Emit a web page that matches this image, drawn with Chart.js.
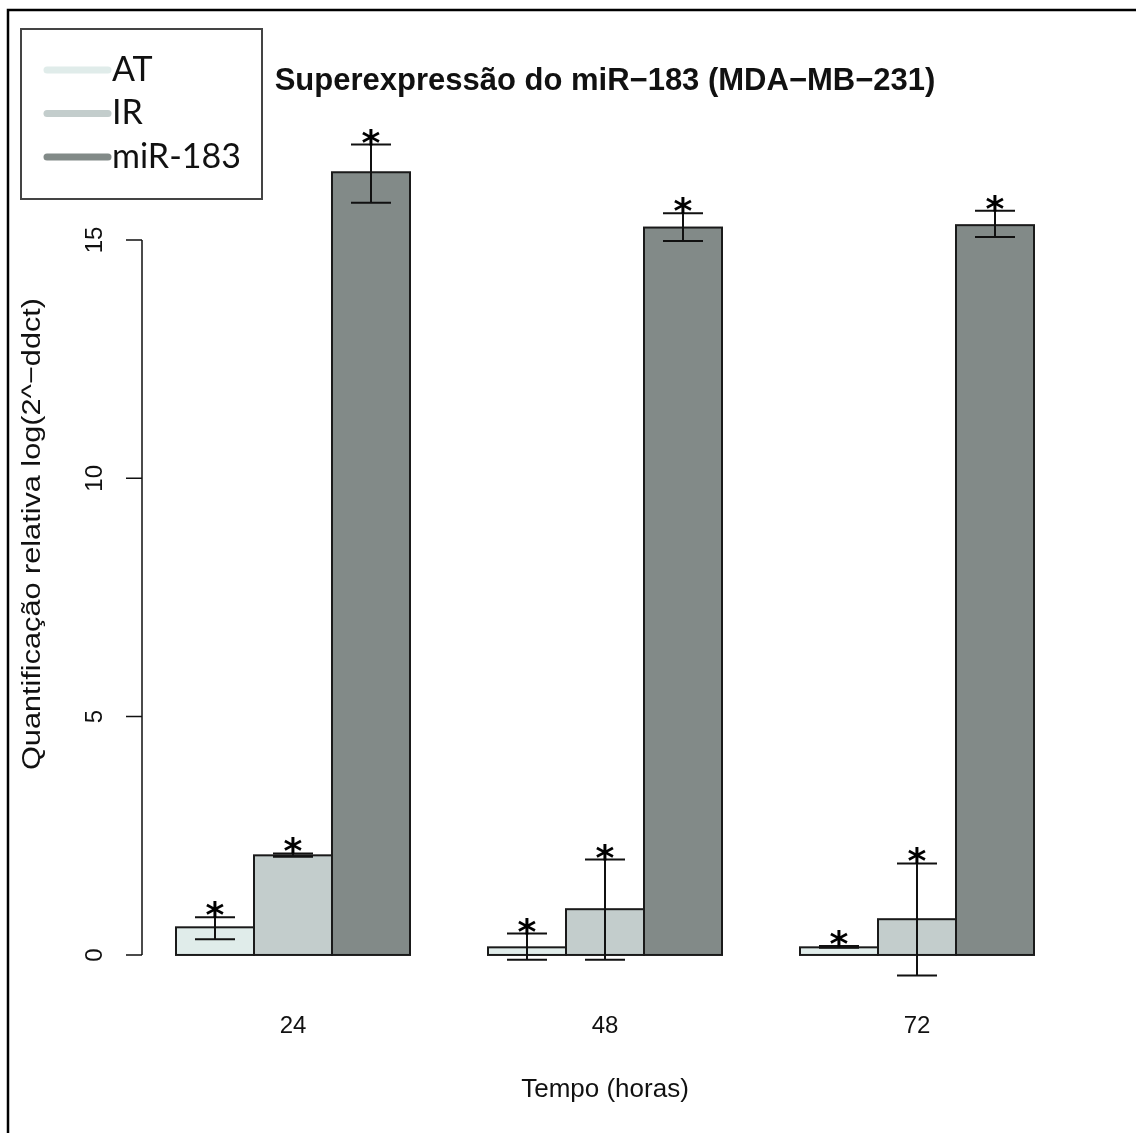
<!DOCTYPE html>
<html>
<head>
<meta charset="utf-8">
<title>Superexpressão do miR-183 (MDA-MB-231)</title>
<script src="https://cdn.jsdelivr.net/npm/chart.js@4.4.1/dist/chart.umd.min.js"></script>
<style>
  html, body { margin: 0; padding: 0; background: #ffffff; }
  #wrap { position: relative; width: 1136px; height: 1133px; }
</style>
</head>
<body>
<div id="wrap"><canvas id="chart" width="1136" height="1133"></canvas></div>
<script>
// Relative quantification, log(2^-ddct), per time point
const timePoints = ['24', '48', '72'];
const seriesNames = ['AT', 'IR', 'miR-183'];
const atValues = [0.58, 0.16, 0.16];
const irValues = [2.09, 0.96, 0.75];
const mirValues = [16.42, 15.26, 15.31];
// error bar ends (low / high)
const atLow = [0.33, -0.10, 0.15];
const atHigh = [0.79, 0.45, 0.19];
const irLow = [2.06, -0.10, -0.43];
const irHigh = [2.13, 2.00, 1.92];
const mirLow = [15.78, 14.98, 15.06];
const mirHigh = [17.00, 15.56, 15.61];
const yTicks = [0, 5, 10, 15];

const fills = ['#e0ecea', '#c3cdcc', '#828a88'];
const lows = [atLow, irLow, mirLow];
const highs = [atHigh, irHigh, mirHigh];

// draw text stretched along its baseline so it spans `len` pixels
function fillStretched(ctx, text, len) {
    const w = ctx.measureText(text).width;
    ctx.save();
    ctx.scale(len / w, 1);
    ctx.fillText(text, 0, 0);
    ctx.restore();
}

// R-style decorations: frame, legend, axes, error bars and asterisks
const rDecor = {
    id: 'rDecor',
    afterDatasetsDraw(chart) {
        const ctx = chart.ctx;
        const x = chart.scales.x;
        const y = chart.scales.y;
        ctx.save();

        // bar outlines
        ctx.strokeStyle = '#1a1a1a';
        ctx.lineWidth = 2;
        chart.data.datasets.forEach((ds, di) => {
            chart.getDatasetMeta(di).data.forEach(bar => {
                const w = bar.width;
                ctx.strokeRect(bar.x - w / 2, bar.y, w, bar.base - bar.y);
            });
        });

        // error bars
        ctx.strokeStyle = '#111';
        ctx.lineWidth = 2;
        chart.data.datasets.forEach((ds, di) => {
            chart.getDatasetMeta(di).data.forEach((bar, i) => {
                const yl = y.getPixelForValue(lows[di][i]);
                const yh = y.getPixelForValue(highs[di][i]);
                ctx.beginPath();
                ctx.moveTo(bar.x, yl); ctx.lineTo(bar.x, yh);
                ctx.moveTo(bar.x - 20, yl); ctx.lineTo(bar.x + 20, yl);
                ctx.moveTo(bar.x - 20, yh); ctx.lineTo(bar.x + 20, yh);
                ctx.stroke();
                // significance mark above the upper cap
                const top = Math.max(highs[di][i], ds.data[i]);
                ctx.fillStyle = '#000';
                ctx.font = 'bold 36px "DejaVu Sans"';
                ctx.textAlign = 'center';
                ctx.textBaseline = 'alphabetic';
                ctx.fillText('*', bar.x, y.getPixelForValue(top) + 10);
            });
        });

        // y axis: line from first to last tick, rotated labels
        const y0 = y.getPixelForValue(yTicks[0]);
        const y1 = y.getPixelForValue(yTicks[yTicks.length - 1]);
        const ax = 142;
        ctx.strokeStyle = '#111';
        ctx.lineWidth = 1.5;
        ctx.beginPath();
        ctx.moveTo(ax, y0); ctx.lineTo(ax, y1);
        yTicks.forEach(t => {
            const py = y.getPixelForValue(t);
            ctx.moveTo(ax, py); ctx.lineTo(ax - 16, py);
        });
        ctx.stroke();
        ctx.fillStyle = '#111';
        ctx.font = '24px "Liberation Sans"';
        ctx.textAlign = 'center';
        ctx.textBaseline = 'middle';
        yTicks.forEach(t => {
            ctx.save();
            ctx.translate(95, y.getPixelForValue(t));
            ctx.rotate(-Math.PI / 2);
            ctx.fillText(String(t), 0, 0);
            ctx.restore();
        });

        // x category labels
        timePoints.forEach((lab, i) => {
            ctx.fillText(lab, x.getPixelForValue(i), 1026);
        });

        // axis titles and main title
        const cx = (142 + 1068) / 2;
        ctx.font = '26px "Liberation Sans"';
        ctx.fillText('Tempo (horas)', cx, 1090);
        ctx.save();
        ctx.translate(33, 534);
        ctx.rotate(-Math.PI / 2);
        fillStretched(ctx, 'Quantificação relativa log(2^\u2212ddct)', 472);
        ctx.restore();
        ctx.font = 'bold 31px "Liberation Sans"';
        ctx.fillText('Superexpressão do miR\u2212183 (MDA\u2212MB\u2212231)', cx, 81);

        // legend
        ctx.strokeStyle = '#444';
        ctx.lineWidth = 2;
        ctx.strokeRect(21, 29, 241, 170);
        ctx.lineCap = 'round';
        ctx.lineWidth = 7;
        ctx.font = '34px Lato';
        ctx.textAlign = 'left';
        seriesNames.forEach((name, i) => {
            const ly = 70 + i * 43.5;
            ctx.strokeStyle = fills[i];
            ctx.beginPath();
            ctx.moveTo(47, ly); ctx.lineTo(108, ly);
            ctx.stroke();
            ctx.fillStyle = '#111';
            ctx.fillText(name, 112, ly);
        });

        // outer frame (top and left edges)
        ctx.lineCap = 'butt';
        ctx.strokeStyle = '#000';
        ctx.lineWidth = 2.5;
        ctx.beginPath();
        ctx.moveTo(8, 1133); ctx.lineTo(8, 10); ctx.lineTo(1136, 10);
        ctx.stroke();

        ctx.restore();
    }
};

const datasets = [atValues, irValues, mirValues].map((vals, i) => ({
    label: seriesNames[i],
    data: vals,
    backgroundColor: fills[i],
    borderWidth: 0,
    categoryPercentage: 0.75,
    barPercentage: 1.0
}));

new Chart(document.getElementById('chart'), {
    type: 'bar',
    data: { labels: timePoints, datasets: datasets },
    options: {
        responsive: false,
        animation: false,
        layout: { padding: { left: 137, right: 63, top: 79.3, bottom: 144.2 } },
        plugins: { legend: { display: false }, tooltip: { enabled: false } },
        scales: {
            x: { display: false, offset: true },
            y: { display: false, min: -0.71, max: 18.37 }
        }
    },
    plugins: [rDecor]
});
</script>
</body>
</html>
